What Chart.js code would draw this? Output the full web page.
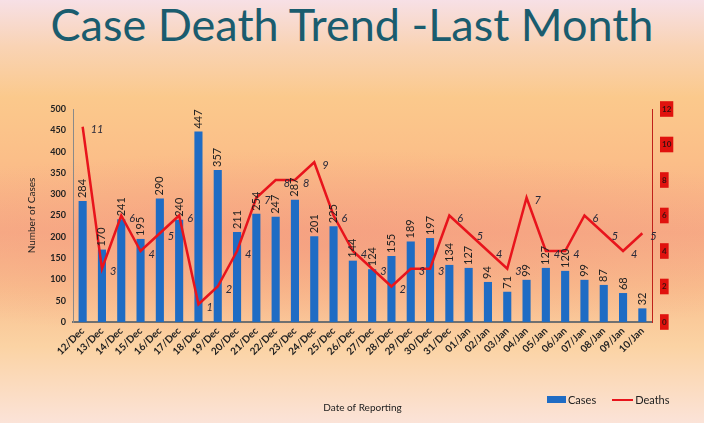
<!DOCTYPE html>
<html>
<head>
<meta charset="utf-8">
<script src="https://cdn.jsdelivr.net/npm/chart.js@4.4.1/dist/chart.umd.min.js"></script>
<style>
  html, body { margin: 0; padding: 0; }
  body {
    width: 704px; height: 423px; overflow: hidden; position: relative;
    background:
      radial-gradient(ellipse 560px 95px at 330px 245px, rgba(244,150,125,0.55), rgba(244,150,125,0) 100%),
      linear-gradient(to bottom, #f7e0e6 0%, #f9d3b4 11%, #fbc98c 23%, #fbbe88 38%, #f7ad86 55%, #f9bf8e 68%, #fbd3a4 82%, #fbe3d8 100%);
    font-family: Lato, "Open Sans", sans-serif;
  }
  #title {
    position: absolute; left: 0; top: -3px; width: 704px; text-align: center;
    font-size: 45px; color: #1a5c6e;
  }
  #chart { position: absolute; left: 0; top: 0; }
  #legend {
    position: absolute; left: 547px; top: 393px; font-size: 11px; color: #222;
    display: flex; align-items: center;
  }
  #legend .sw-bar { width: 19px; height: 7px; background: #1f6cc4; margin-right: 2px; }
  #legend .sw-line { width: 21px; height: 2px; background: #e8141c; margin: 0 2px 0 16px; }
</style>
</head>
<body>
<div id="title">Case Death Trend -Last Month</div>
<canvas id="chart" width="704" height="423"></canvas>
<div id="legend"><span class="sw-bar"></span>Cases<span class="sw-line"></span>Deaths</div>
<script>
const dates = ['12/Dec', '13/Dec', '14/Dec', '15/Dec', '16/Dec', '17/Dec', '18/Dec', '19/Dec', '20/Dec', '21/Dec',
  '22/Dec', '23/Dec', '24/Dec', '25/Dec', '26/Dec', '27/Dec', '28/Dec', '29/Dec', '30/Dec', '31/Dec',
  '01/Jan', '02/Jan', '03/Jan', '04/Jan', '05/Jan', '06/Jan', '07/Jan', '08/Jan', '09/Jan', '10/Jan'];
const cases = [284, 170, 241, 195, 290, 240, 447, 357, 211, 254, 247, 287, 201, 225, 144, 124, 155, 189, 197, 134,
  127, 94, 71, 99, 127, 120, 99, 87, 68, 32];
const deaths = [11, 3, 6, 4, 5, 6, 1, 2, 4, 7, 8, 8, 9, 6, 4, 3, 2, 3, 3, 6, 5, 4, 3, 7, 4, 4, 6, 5, 4, 5];
const casesTicks = [0, 50, 100, 150, 200, 250, 300, 350, 400, 450, 500];
const deathsTicks = [0, 2, 4, 6, 8, 10, 12];

// value labels: vertical numbers over bars, italic numbers beside the line points
const valueLabels = {
  id: 'valueLabels',
  afterDatasetsDraw(chart) {
    const ctx = chart.ctx;
    ctx.save();
    ctx.fillStyle = '#222';
    const barMeta = chart.getDatasetMeta(0);
    ctx.font = '11px Lato, "Open Sans", sans-serif';
    barMeta.data.forEach((bar, i) => {
      ctx.save();
      ctx.translate(bar.x, bar.y - 3);
      ctx.rotate(-Math.PI / 2);
      ctx.textAlign = 'left';
      ctx.textBaseline = 'middle';
      ctx.fillText(String(cases[i]), 0, 0);
      ctx.restore();
    });
    const lineMeta = chart.getDatasetMeta(1);
    ctx.font = 'italic 11px Lato, "Open Sans", sans-serif';
    ctx.fillStyle = '#2a2a3a';
    ctx.textAlign = 'left';
    ctx.textBaseline = 'middle';
    lineMeta.data.forEach((pt, i) => {
      ctx.fillText(String(deaths[i]), pt.x + 8, pt.y + 3);
    });
    ctx.restore();
  }
};

new Chart(document.getElementById('chart').getContext('2d'), {
  type: 'bar',
  data: {
    labels: dates,
    datasets: [{
      label: 'Cases',
      data: cases,
      backgroundColor: '#1f6cc4',
      barPercentage: 0.42,
      categoryPercentage: 1,
      yAxisID: 'y',
      order: 2
    }, {
      type: 'line',
      label: 'Deaths',
      data: deaths,
      borderColor: '#e8141c',
      borderWidth: 2.5,
      pointRadius: 0,
      tension: 0,
      yAxisID: 'y1',
      order: 1
    }]
  },
  options: {
    responsive: false,
    animation: false,
    devicePixelRatio: 1,
    layout: { padding: { top: 109, left: 0, right: 0, bottom: 0 } },
    plugins: { legend: { display: false }, tooltip: { enabled: false } },
    scales: {
      x: {
        grid: { display: false, drawTicks: false },
        border: { color: '#707070', width: 2 },
        ticks: {
          color: '#222', maxRotation: 45, minRotation: 45, autoSkip: false, padding: 3,
          font: { family: 'Lato', size: 10, weight: 'bold' }
        },
        title: {
          display: true, text: 'Date of Reporting', color: '#222',
          font: { family: 'Lato', size: 10 }, padding: { top: 0, bottom: 9 }
        },
        afterFit(scale) { scale.height = 101; }
      },
      y: {
        position: 'left',
        min: 0, max: 500,
        afterBuildTicks(scale) { scale.ticks = casesTicks.map(v => ({ value: v })); },
        grid: { display: false, drawOnChartArea: false, drawTicks: true, tickLength: 4, color: '#707070' },
        border: { color: '#8a8a8a', width: 1 },
        ticks: { color: '#222', padding: 3, font: { family: 'Lato', size: 9, weight: 'bold' } },
        title: {
          display: true, text: 'Number of Cases', color: '#222',
          font: { family: 'Lato', size: 10 }, padding: { top: 26, bottom: 0 }
        },
        afterFit(scale) { scale.width = 73; }
      },
      y1: {
        position: 'right',
        min: 0, max: 12,
        afterBuildTicks(scale) { scale.ticks = deathsTicks.map(v => ({ value: v })); },
        grid: { display: false, drawOnChartArea: false, drawTicks: true, tickLength: 4, color: '#c0201a' },
        border: { color: '#c0201a', width: 1 },
        ticks: {
          color: '#3a1010', padding: 6,
          showLabelBackdrop: true, backdropColor: '#e0120e', backdropPadding: { top: 3, bottom: 3, left: 2, right: 2 },
          font: { family: 'Lato', size: 8, weight: 'bold' }
        },
        afterFit(scale) { scale.width = 52; }
      }
    }
  },
  plugins: [valueLabels]
});
</script>
</body>
</html>
